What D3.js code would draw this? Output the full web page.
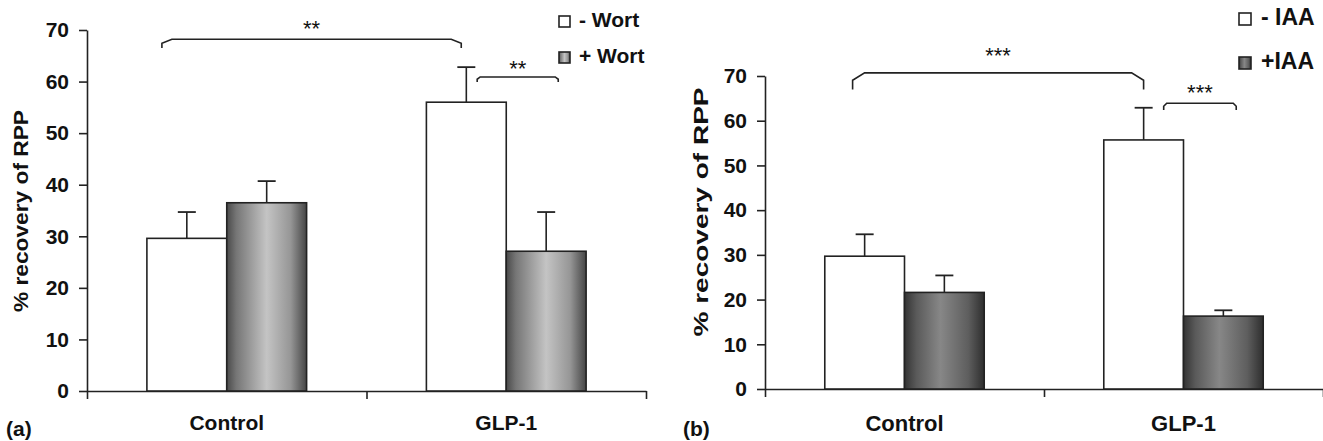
<!DOCTYPE html>
<html>
<head>
<meta charset="utf-8">
<script src="https://cdn.jsdelivr.net/npm/d3@7"></script>
<style>
  html, body { margin: 0; padding: 0; background: #fff; }
  svg text { font-family: "Liberation Sans", Arial, sans-serif; font-weight: bold; fill: #111; }
</style>
</head>
<body>
<div id="chart"></div>
<script>
// values (% recovery of RPP, mean and upper SEM)
const groups = ["Control", "GLP-1"];
const yTicks = [0, 10, 20, 30, 40, 50, 60, 70];

const wortSeries = ["- Wort", "+ Wort"];
const wortMeans = [[29.6, 36.5], [56.0, 27.1]];
const wortErrors = [[5.1, 4.2], [6.8, 7.6]];

const iaaSeries = ["- IAA", "+IAA"];
const iaaMeans = [[29.7, 21.6], [55.7, 16.3]];
const iaaErrors = [[4.9, 3.8], [7.2, 1.3]];

// significance brackets: band index + fraction of band, heights in value units
const wortBrackets = [
    { g1: 0, f1: 0.268, g2: 1, f2: 0.339, top: 68.2, end: 66.5, label: "**", ly: 71.3, bevel: 10 },
    { g1: 1, f1: 0.396, g2: 1, f2: 0.686, top: 60.9, end: 59.9, label: "**", ly: 63.6, bevel: 3 }
];
const iaaBrackets = [
    { g1: 0, f1: 0.314, g2: 1, f2: 0.357, top: 70.7, end: 67.0, label: "***", ly: 75.7, bevel: 12 },
    { g1: 1, f1: 0.429, g2: 1, f2: 0.689, top: 63.9, end: 62.4, label: "***", ly: 67.5, bevel: 3 }
];

const svg = d3.select("#chart").append("svg")
    .attr("width", 1323)
    .attr("height", 441);

const defs = svg.append("defs");

function addGradient(id, stops) {
    const g = defs.append("linearGradient").attr("id", id)
        .attr("x1", "0%").attr("x2", "100%").attr("y1", "0%").attr("y2", "0%");
    stops.forEach(s => g.append("stop").attr("offset", s[0]).attr("stop-color", s[1]));
}
addGradient("gradA", [["0%", "#4a4a4a"], ["12%", "#767676"], ["50%", "#c4c4c4"], ["80%", "#969696"], ["100%", "#454545"]]);
addGradient("gradB", [["0%", "#343434"], ["15%", "#5a5a5a"], ["45%", "#878787"], ["80%", "#5e5e5e"], ["100%", "#2e2e2e"]]);

function drawPanel(cfg) {
    const x = d3.scaleBand().domain(groups).range([cfg.x0, cfg.x1]).padding(0);
    const xs = d3.scaleBand().domain(cfg.series).range([0, x.bandwidth()])
        .paddingInner(0).paddingOuter(0.75);
    const y = d3.scaleLinear().domain([0, 70]).range([cfg.yBottom, cfg.yTop]);
    const bound = d3.scaleLinear().domain([0, groups.length]).range([cfg.x0, cfg.x1]);

    const g = svg.append("g");

    // y axis
    const ya = g.append("g")
        .attr("transform", `translate(${cfg.x0},0)`)
        .call(d3.axisLeft(y).tickValues(yTicks).tickSize(8).tickSizeOuter(0).tickPadding(10));
    ya.selectAll("path, line").attr("stroke", "#222").attr("stroke-width", 1.6);
    ya.selectAll("text").style("font-size", "21px").attr("fill", "#111");

    // x axis (ticks at group boundaries)
    const xa = g.append("g")
        .attr("transform", `translate(0,${cfg.yBottom})`)
        .call(d3.axisBottom(bound).tickValues(d3.range(groups.length + 1)).tickSize(8).tickSizeOuter(0).tickFormat(""));
    xa.selectAll("path, line").attr("stroke", "#222").attr("stroke-width", 1.6);

    // category labels
    const xl = g.append("g")
        .attr("transform", `translate(0,${cfg.yBottom})`)
        .call(d3.axisBottom(x).tickSize(0).tickPadding(cfg.labelPad));
    xl.select(".domain").remove();
    xl.selectAll("text").style("font-size", cfg.catFont + "px").attr("fill", "#111");

    // bars
    const cells = [];
    groups.forEach((gr, i) => cfg.series.forEach((s, j) => {
        cells.push({ group: gr, series: s, j, mean: cfg.means[i][j], err: cfg.errors[i][j] });
    }));

    const bars = g.append("g").selectAll("g").data(cells).join("g")
        .attr("transform", d => `translate(${x(d.group) + xs(d.series)},0)`);

    // error bars first (only upper whisker visible)
    bars.append("line")
        .attr("x1", xs.bandwidth() / 2).attr("x2", xs.bandwidth() / 2)
        .attr("y1", d => y(d.mean)).attr("y2", d => y(d.mean + d.err))
        .attr("stroke", "#222").attr("stroke-width", 1.6);
    bars.append("line")
        .attr("x1", xs.bandwidth() / 2 - 9).attr("x2", xs.bandwidth() / 2 + 9)
        .attr("y1", d => y(d.mean + d.err)).attr("y2", d => y(d.mean + d.err))
        .attr("stroke", "#222").attr("stroke-width", 1.8);

    bars.append("rect")
        .attr("y", d => y(d.mean))
        .attr("width", xs.bandwidth())
        .attr("height", d => y(0) - y(d.mean))
        .attr("fill", d => d.j === 0 ? "#fff" : `url(#${cfg.grad})`)
        .attr("stroke", "#222").attr("stroke-width", 1.6);

    // significance brackets
    cfg.brackets.forEach(b => {
        const bx1 = x(groups[b.g1]) + b.f1 * x.bandwidth();
        const bx2 = x(groups[b.g2]) + b.f2 * x.bandwidth();
        const yt = y(b.top), ye = y(b.end);
        const ym = yt + (ye - yt) * 0.45;
        g.append("path")
            .attr("d", `M${bx1},${ye} L${bx1},${ym} L${bx1 + b.bevel},${yt} L${bx2 - b.bevel},${yt} L${bx2},${ym} L${bx2},${ye}`)
            .attr("fill", "none").attr("stroke", "#222").attr("stroke-width", 1.6);
        g.append("text")
            .attr("x", (bx1 + bx2) / 2).attr("y", y(b.ly))
            .attr("text-anchor", "middle").attr("dy", "0.58em")
            .style("font-size", "22px").style("font-weight", "normal")
            .text(b.label);
    });

    // y title
    g.append("text")
        .attr("transform", `translate(${cfg.titleX},${cfg.titleY}) rotate(-90)`)
        .attr("text-anchor", "middle").attr("dy", "0.35em")
        .attr("textLength", cfg.titleLen).attr("lengthAdjust", "spacingAndGlyphs")
        .style("font-size", "21px")
        .text("% recovery of RPP");

    // legend
    const lg = g.append("g");
    cfg.series.forEach((s, j) => {
        lg.append("rect")
            .attr("x", cfg.legX).attr("y", cfg.legY[j])
            .attr("width", cfg.legBox).attr("height", cfg.legBox)
            .attr("fill", j === 0 ? "#fff" : `url(#${cfg.grad})`)
            .attr("stroke", "#222").attr("stroke-width", 1.6);
        lg.append("text")
            .attr("x", cfg.legX + cfg.legBox + cfg.legGap)
            .attr("y", cfg.legY[j] + cfg.legBox)
            .style("font-size", cfg.legFont + "px")
            .text(s);
    });

    // panel letter
    g.append("text")
        .attr("x", cfg.letterX).attr("y", 436)
        .style("font-size", "21px")
        .text(cfg.letter);
}

drawPanel({
    series: wortSeries, means: wortMeans, errors: wortErrors, brackets: wortBrackets,
    x0: 87, x1: 646, yBottom: 391, yTop: 30, grad: "gradA",
    labelPad: 24, catFont: 21,
    titleX: 21, titleY: 211, titleLen: 202,
    legX: 559, legY: [16, 52], legBox: 11, legGap: 9, legFont: 21,
    letter: "(a)", letterX: 6
});

drawPanel({
    series: iaaSeries, means: iaaMeans, errors: iaaErrors, brackets: iaaBrackets,
    x0: 765, x1: 1323, yBottom: 389, yTop: 76, grad: "gradB",
    labelPad: 26, catFont: 22,
    titleX: 701, titleY: 212, titleLen: 249,
    legX: 1239, legY: [13, 57], legBox: 12, legGap: 10, legFont: 23,
    letter: "(b)", letterX: 683
});
</script>
</body>
</html>
